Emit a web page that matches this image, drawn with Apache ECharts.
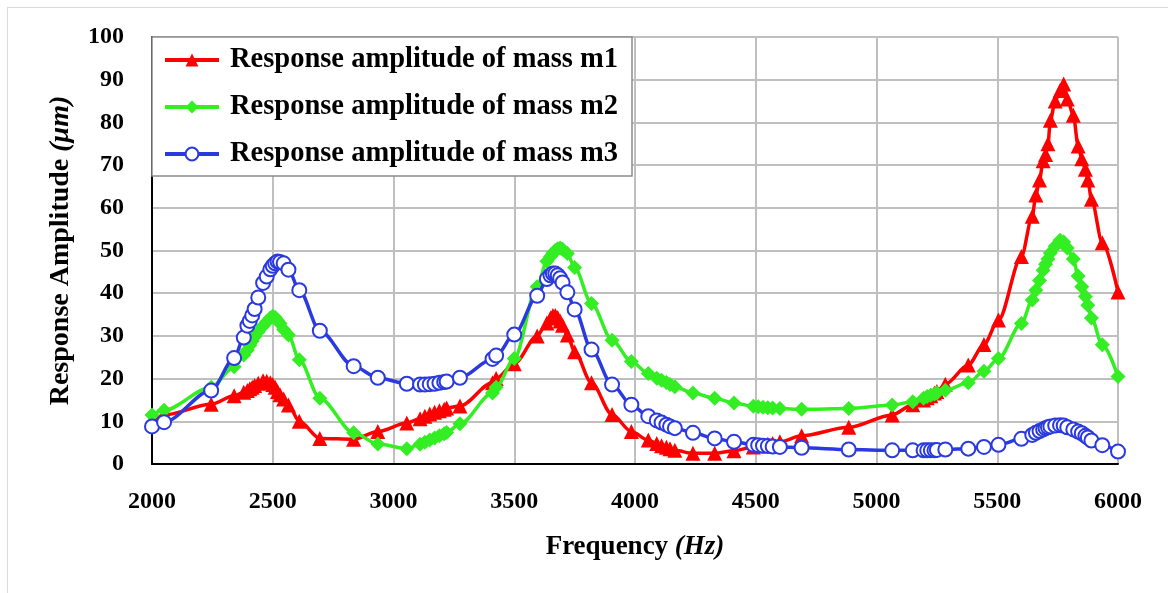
<!DOCTYPE html>
<html>
<head>
<meta charset="utf-8">
<script src="https://cdn.jsdelivr.net/npm/echarts@6/dist/echarts.min.js"></script>
<style>
html,body{margin:0;padding:0;background:#fff;}
#chart{width:1168px;height:593px;}
</style>
</head>
<body>
<div id="chart"></div>
<script>
// Frequencies (Hz), shared by all three series
const freq = [2000, 2050, 2245, 2340, 2380, 2395, 2405, 2415, 2425, 2440, 2460, 2475, 2490, 2500, 2510, 2520, 2530, 2545, 2565, 2610, 2695,
  2835, 2935, 3055, 3110, 3130, 3150, 3170, 3190, 3210, 3220, 3275, 3410, 3425, 3500, 3595, 3635, 3650, 3660, 3670, 3680, 3690, 3700, 3720, 3750,
  3820, 3905, 3985, 4055, 4090, 4110, 4130, 4145, 4165, 4240, 4330, 4410, 4490, 4510, 4530, 4550, 4570, 4600, 4690,
  4885, 5065, 5150, 5195, 5210, 5225, 5240, 5250, 5285, 5380, 5445, 5505, 5600, 5645, 5660, 5675, 5690, 5700, 5710, 5720, 5740, 5760, 5775,
  5790, 5815, 5835, 5850, 5865, 5875, 5890, 5935, 6000];

const ampM1 = [10, 11.5, 14, 16, 16.8, 17.2, 17.6, 18, 18.4, 18.9, 19.5, 19.4, 19, 18.6, 18, 17, 16.2, 15.2, 13.8, 10, 6,
  5.8, 7.6, 9.6, 10.6, 11.2, 11.7, 12.1, 12.5, 12.8, 13.1, 13.6, 19, 20, 23.5, 30, 33, 34.2, 34.8, 34.8, 34.3, 33.5, 32.5, 30.2, 26.3,
  19, 11.6, 7.6, 5.6, 4.8, 4.3, 3.9, 3.6, 3.2, 2.5, 2.5, 3.1, 4, 4.2, 4.4, 4.6, 4.8, 5.2, 6.6,
  8.6, 11.5, 13.9, 15, 15.5, 16, 16.6, 17, 18.7, 23.2, 28, 33.7, 48.6, 58, 63, 66.5, 71, 72.5, 75, 80.5, 85, 87.5, 89,
  85.5, 81.7, 74.5, 71.5, 69, 66.5, 62, 51.8, 40.3];

const ampM2 = [11.5, 12.6, 18, 22.8, 25.5, 26.7, 27.8, 28.8, 29.8, 31, 32.3, 33.3, 34.2, 34.6, 34.3, 33.6, 32.9, 31.5, 30.2, 24.4, 15.4,
  7.3, 4.7, 3.6, 4.6, 5.1, 5.6, 6.1, 6.6, 7.1, 7.4, 9.4, 16.6, 18, 24.7, 41.5, 47.5, 48.6, 49.4, 50, 50.4, 50.6, 50.3, 49.3, 46,
  37.6, 29, 24, 21.2, 20.1, 19.6, 19.1, 18.6, 18.1, 16.6, 15.4, 14.3, 13.5, 13.4, 13.3, 13.2, 13.1, 13, 12.8,
  13, 13.8, 14.6, 15.4, 15.8, 16.1, 16.4, 16.6, 17.3, 19, 21.7, 24.7, 32.9, 38.4, 40.7, 43, 45.4, 46.8, 48, 49.4, 51, 52.4, 52,
  50.6, 48, 44, 41.5, 39.2, 37.2, 34.2, 27.9, 20.5];

const ampM3 = [8.8, 9.8, 17.2, 24.8, 29.6, 32.4, 33.5, 34.8, 36.3, 39, 42.4, 43.9, 45.6, 46.4, 47, 47.4, 47.3, 47, 45.5, 40.7, 31.2,
  22.9, 20.2, 18.8, 18.6, 18.6, 18.7, 18.8, 19, 19.2, 19.3, 20.2, 24.6, 25.4, 30.3, 39.4, 43.3, 44.2, 44.6, 44.6, 44.2, 43.5, 42.5, 40.2, 36.2,
  26.8, 18.6, 13.9, 11.2, 10.2, 9.7, 9.2, 8.8, 8.4, 7.3, 6, 5.2, 4.5, 4.4, 4.3, 4.2, 4.1, 4, 3.8,
  3.4, 3.2, 3.2, 3.2, 3.2, 3.2, 3.2, 3.3, 3.4, 3.6, 4, 4.5, 5.9, 6.8, 7.3, 7.7, 8.1, 8.4, 8.6, 8.8, 9, 9.1, 9,
  8.6, 8.1, 7.6, 7.2, 6.6, 6.2, 5.5, 4.4, 2.9];

const seriesNames = ['Response amplitude of mass m1', 'Response amplitude of mass m2', 'Response amplitude of mass m3'];
const xTicks = [2000, 2500, 3000, 3500, 4000, 4500, 5000, 5500, 6000];
const yTicks = [0, 10, 20, 30, 40, 50, 60, 70, 80, 90, 100];

const FONT = '"Liberation Serif", "Times New Roman", serif';
const pair = (ys) => freq.map((f, i) => [f, ys[i]]);

const chart = echarts.init(document.getElementById('chart'), null, {renderer: 'canvas'});
chart.setOption({
  animation: false,
  backgroundColor: '#fff',
  grid: {left: 152, right: 50, top: 37, bottom: 129, containLabel: false},
  graphic: [
    {type: 'line', shape: {x1: 7, y1: 7.5, x2: 1168, y2: 7.5}, style: {stroke: '#d9d9d9', lineWidth: 1}, z: 1},
    {type: 'line', shape: {x1: 7.5, y1: 7, x2: 7.5, y2: 593}, style: {stroke: '#d9d9d9', lineWidth: 1}, z: 1},
    {type: 'rect', shape: {x: 152, y: 37, width: 480, height: 139}, style: {fill: '#fff', stroke: '#8c8c8c', lineWidth: 1.5}, z: 100}
  ],
  legend: {
    z: 200,
    orient: 'vertical',
    left: 152, top: 37,
    padding: [8, 10, 8, 11],
    itemGap: 17,
    itemWidth: 54,
    itemHeight: 16,
    data: seriesNames,
    lineStyle: {width: 4},
    textStyle: {fontFamily: FONT, fontWeight: 'bold', fontSize: 28.5, color: '#000', lineHeight: 30, padding: [0, 0, 0, 6]}
  },
  xAxis: {
    type: 'value', min: 2000, max: 6000, interval: 500,
    name: '{b|Frequency }{i|(Hz)}',
    nameLocation: 'middle', nameGap: 70,
    nameTextStyle: {rich: {
      b: {fontFamily: FONT, fontWeight: 'bold', fontSize: 27, color: '#000'},
      i: {fontFamily: FONT, fontWeight: 'bold', fontStyle: 'italic', fontSize: 27, color: '#000'}
    }},
    axisLine: {show: true, lineStyle: {color: '#000', width: 2}},
    axisTick: {show: false},
    axisLabel: {fontFamily: FONT, fontWeight: 'bold', fontSize: 24, color: '#000', margin: 26,
      formatter: (v) => xTicks.includes(v) ? String(v) : ''},
    splitLine: {show: true, lineStyle: {color: '#bfbfbf', width: 2}}
  },
  yAxis: {
    type: 'value', min: 0, max: 100, interval: 10,
    name: '{b|Response Amplitude }{i|(μm)}',
    nameLocation: 'middle', nameGap: 77, nameRotate: 90,
    nameTextStyle: {rich: {
      b: {fontFamily: FONT, fontWeight: 'bold', fontSize: 28, color: '#000'},
      i: {fontFamily: FONT, fontWeight: 'bold', fontStyle: 'italic', fontSize: 28, color: '#000'}
    }},
    axisLine: {show: true, lineStyle: {color: '#000', width: 2}},
    axisTick: {show: false},
    axisLabel: {fontFamily: FONT, fontWeight: 'bold', fontSize: 24, color: '#000', margin: 28,
      formatter: (v) => yTicks.includes(v) ? String(v) : ''},
    splitLine: {show: true, lineStyle: {color: '#bfbfbf', width: 2}}
  },
  series: [
    {
      name: seriesNames[0], type: 'line', data: pair(ampM1),
      smooth: 0.3, smoothMonotone: 'x',
      symbol: 'triangle', symbolSize: 15,
      lineStyle: {color: '#ff0000', width: 3.5},
      itemStyle: {color: '#ff0000', borderColor: '#ff0000', borderWidth: 0},
      color: '#ff0000', z: 2
    },
    {
      name: seriesNames[1], type: 'line', data: pair(ampM2),
      smooth: 0.3, smoothMonotone: 'x',
      symbol: 'diamond', symbolSize: 15,
      lineStyle: {color: '#33ee22', width: 3.5},
      itemStyle: {color: '#33ee22', borderColor: '#33ee22', borderWidth: 0},
      color: '#33ee22', z: 3
    },
    {
      name: seriesNames[2], type: 'line', data: pair(ampM3),
      smooth: 0.3, smoothMonotone: 'x',
      symbol: 'circle', symbolSize: 14,
      lineStyle: {color: '#2a3ae0', width: 3.5},
      itemStyle: {color: '#ffffff', borderColor: '#2a3ae0', borderWidth: 2},
      color: '#2a3ae0', z: 4
    }
  ]
});
</script>
</body>
</html>
